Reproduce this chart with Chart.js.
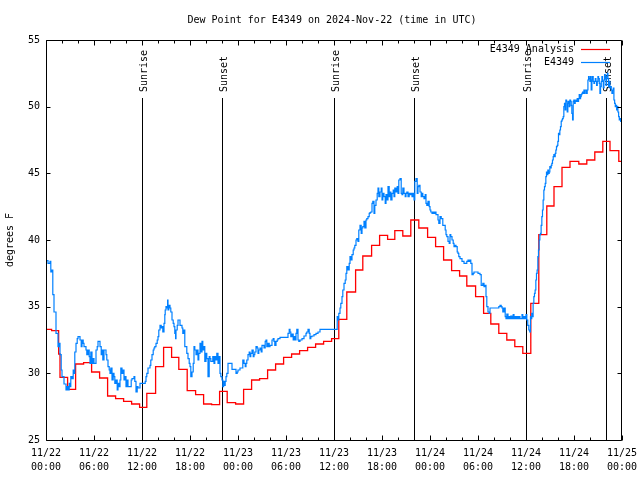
<!DOCTYPE html>
<html><head><meta charset="utf-8">
<script src="https://cdn.jsdelivr.net/npm/chart.js@4"></script>
<style>html,body{margin:0;padding:0;background:#fff}#wrap{width:640px;height:480px}</style>
</head><body><div id="wrap"><canvas id="c" width="640" height="480"></canvas></div>
<script>
const chartTitle = 'Dew Point for E4349 on 2024-Nov-22 (time in UTC)';
const yAxisLabel = 'degrees F';
const seriesNames = ['E4349 Analysis', 'E4349'];
const dateLabels = ['11/22','11/22','11/22','11/22','11/23','11/23','11/23','11/23','11/24','11/24','11/24','11/24','11/25'];
const timeLabels = ['00:00','06:00','12:00','18:00','00:00','06:00','12:00','18:00','00:00','06:00','12:00','18:00','00:00'];
const sunEventNames = ['Sunrise','Sunset','Sunrise','Sunset','Sunrise','Sunset'];
const sunEventHours = [11.97, 21.98, 36.0, 46.02, 60.05, 69.95];

// hours since 2024-11-22 00:00 UTC
const analysisHours = [0,0.7,1.58,1.75,2.7,
  3.7,4.7,5.7,6.7,7.7,8.7,9.7,10.7,11.7,12.6,13.7,14.7,15.7,16.6,17.65,18.7,19.7,20.7,21.7,22.65,23.7,
  24.7,25.7,26.7,27.7,28.7,29.7,30.7,31.7,32.7,33.7,34.7,35.7,
  36.6,37.6,38.7,39.6,40.7,41.7,42.7,43.6,44.6,45.6,46.6,47.7,48.7,49.7,50.7,51.7,52.6,53.7,54.7,55.6,56.6,57.6,58.6,59.6,
  60.6,61.6,62.6,63.5,64.5,65.5,66.6,67.6,68.6,69.6,70.5,71.6,72];
const analysisValues = [33.3,33.2,31.45,29.7,28.8,
  30.7,30.8,30.1,29.65,28.3,28.1,27.9,27.7,27.45,28.5,30.5,31.95,31.2,30.3,28.7,28.4,27.7,27.65,28.65,27.8,27.7,
  28.8,29.5,29.6,30.25,30.7,31.2,31.45,31.7,31.95,32.2,32.4,32.6,
  34.05,36.1,37.75,38.8,39.6,40.35,40.05,40.7,40.3,41.5,40.9,40.2,39.5,38.5,37.7,37.3,36.55,35.75,34.5,33.7,33.0,32.5,32.0,31.5,
  35.25,40.4,42.55,44.0,45.45,45.9,45.7,46.0,46.6,47.4,46.7,45.9,45.9];

const stationHours = [
  0,0.25,0.5,0.6,0.75,0.85,1.0,1.25,1.5,1.6,
  1.75,1.9,2.0,2.25,2.5,2.65,2.75,2.9,3.0,3.1,
  3.25,3.4,3.5,3.6,3.75,3.9,4.0,4.25,4.4,4.5,
  4.65,4.75,5.0,5.1,5.25,5.4,5.5,5.6,5.75,5.9,
  6.0,6.25,6.4,6.5,6.75,6.9,7.0,7.1,7.25,7.4,
  7.5,7.6,7.75,7.9,8.0,8.1,8.25,8.4,8.5,8.6,
  8.75,8.9,9.0,9.1,9.25,9.35,9.5,9.6,9.75,9.9,
  10.0,10.1,10.25,10.5,10.65,10.75,11.0,11.1,11.25,11.4,
  11.5,11.75,12.0,12.25,12.4,12.5,12.6,12.75,12.9,13.0,
  13.1,13.25,13.4,13.5,13.6,13.75,13.9,14.0,14.1,14.25,
  14.4,14.5,14.6,14.75,14.85,14.9,15.0,15.1,15.2,15.25,
  15.35,15.5,15.6,15.75,15.9,16.0,16.1,16.2,16.25,16.4,
  16.5,16.75,17.0,17.1,17.25,17.35,17.5,17.6,17.75,17.9,
  18.0,18.1,18.25,18.4,18.5,18.6,18.75,18.9,19.0,19.1,
  19.25,19.4,19.5,19.6,19.75,19.85,20.0,20.1,20.25,20.4,
  20.5,20.6,20.75,20.85,21.0,21.1,21.25,21.35,21.5,21.6,
  21.75,21.85,22.0,22.1,22.2,22.3,22.4,22.5,22.6,22.75,
  23.0,23.25,23.5,23.75,23.9,24.0,24.25,24.5,24.6,24.75,
  24.9,25.0,25.1,25.25,25.4,25.5,25.6,25.75,25.9,26.0,
  26.1,26.25,26.4,26.5,26.6,26.75,26.9,27.0,27.25,27.4,
  27.5,27.6,27.75,27.9,28.0,28.25,28.4,28.5,28.6,28.75,
  28.9,29.0,29.25,29.5,29.75,30.0,30.1,30.25,30.4,30.5,
  30.6,30.75,30.9,31.0,31.1,31.25,31.35,31.5,31.6,31.75,
  32.0,32.25,32.5,32.6,32.75,32.9,33.0,33.1,33.25,33.5,
  33.75,34.0,34.25,34.5,35.0,35.5,36.0,36.3,36.4,36.5,
  36.6,36.75,36.85,37.0,37.1,37.25,37.4,37.5,37.6,37.75,
  37.9,38.0,38.1,38.25,38.4,38.5,38.6,38.75,38.85,39.0,
  39.1,39.25,39.4,39.5,39.6,39.75,39.85,40.0,40.1,40.25,
  40.4,40.5,40.6,40.75,40.85,41.0,41.1,41.25,41.4,41.5,
  41.6,41.75,41.9,42.0,42.1,42.25,42.4,42.5,42.6,42.75,
  42.9,43.0,43.1,43.25,43.4,43.5,43.6,43.75,43.9,44.0,
  44.1,44.25,44.4,44.5,44.6,44.75,44.9,45.0,45.1,45.25,
  45.4,45.5,45.6,45.75,45.9,46.0,46.1,46.25,46.4,46.5,
  46.6,46.75,46.9,47.0,47.1,47.25,47.4,47.5,47.6,47.75,
  47.9,48.0,48.1,48.25,48.4,48.5,48.6,48.75,48.9,49.0,
  49.1,49.25,49.4,49.5,49.6,49.75,49.9,50.0,50.1,50.25,
  50.4,50.5,50.6,50.75,50.9,51.0,51.1,51.25,51.4,51.5,
  51.6,51.75,52.0,52.25,52.5,52.6,52.75,52.9,53.0,53.1,
  53.25,53.4,53.5,53.75,54.0,54.1,54.25,54.4,54.5,54.6,
  54.75,54.9,55.0,55.1,55.25,55.4,55.5,55.75,56.0,56.25,
  56.5,56.6,56.75,56.9,57.0,57.1,57.25,57.4,57.5,57.6,
  57.75,57.9,58.0,58.1,58.25,58.4,58.5,58.6,58.75,58.9,
  59.0,59.1,59.25,59.4,59.5,59.6,59.75,59.9,60.0,60.1,
  60.22,60.35,60.47,60.56,60.64,60.72,60.81,60.89,60.98,61.06,
  61.14,61.23,61.31,61.39,61.48,61.56,61.64,61.73,61.81,61.89,
  61.98,62.06,62.14,62.23,62.31,62.4,62.48,62.56,62.64,62.73,
  62.81,62.9,62.98,63.06,63.15,63.23,63.31,63.4,63.48,63.56,
  63.65,63.73,63.81,63.9,63.98,64.06,64.15,64.23,64.31,64.4,
  64.48,64.56,64.65,64.73,64.81,64.9,64.98,65.07,65.15,65.23,
  65.32,65.4,65.48,65.57,65.65,65.73,65.82,65.9,65.98,66.07,
  66.15,66.23,66.32,66.4,66.48,66.57,66.65,66.74,66.82,66.9,
  66.99,67.07,67.15,67.24,67.32,67.4,67.49,67.57,67.65,67.74,
  67.82,67.9,67.99,68.07,68.15,68.24,68.32,68.4,68.49,68.57,
  68.66,68.74,68.82,68.91,68.99,69.07,69.16,69.24,69.32,69.41,
  69.49,69.57,69.66,69.74,69.82,69.91,70.0,70.07,70.16,70.24,
  70.32,70.41,70.49,70.57,70.66,70.74,70.83,70.91,70.99,71.08,
  71.16,71.24,71.33,71.41,71.49,71.58,71.66,71.74,71.83,72.0];
const stationValues = [
  38.45,38.25,38.4,37.6,37.75,35.9,34.6,33.0,32.0,32.25,
  31.4,30.25,29.75,29.2,28.75,29.0,28.75,29.25,29.0,29.75,
  29.6,30.25,30.0,31.6,32.25,32.6,32.75,32.5,32.0,32.5,
  32.25,32.0,31.75,31.4,31.75,31.25,30.75,31.6,30.75,31.1,
  30.75,31.75,32.0,32.4,32.0,31.4,31.75,31.0,31.75,31.75,
  31.4,31.0,30.5,30.25,30.0,30.4,29.5,30.0,29.75,29.25,
  29.5,28.75,29.25,29.0,29.5,30.4,30.0,30.25,29.5,29.75,
  29.0,29.5,29.0,29.0,29.5,29.6,29.75,29.4,28.6,29.0,
  28.9,29.25,29.25,29.25,29.4,29.75,30.0,30.4,30.4,30.6,
  31.0,31.4,31.75,31.9,32.0,32.25,32.5,32.75,33.25,33.6,
  33.4,33.5,33.1,33.75,34.4,34.75,35.0,34.9,35.5,34.75,
  35.1,34.9,34.6,34.0,33.75,33.5,33.0,32.6,33.25,33.6,
  34.0,33.6,33.4,33.0,33.25,32.0,32.0,31.5,31.1,30.75,
  30.5,29.75,30.1,30.75,32.0,31.75,31.4,31.75,31.0,31.5,
  32.25,31.6,32.4,31.75,32.0,30.9,31.5,31.1,29.75,31.25,
  31.1,30.9,30.9,31.25,30.75,31.25,31.0,31.5,30.75,31.25,
  30.0,29.75,29.5,29.0,29.4,29.1,29.4,29.75,30.0,30.75,
  30.75,30.3,30.3,30.0,30.1,30.25,30.4,30.4,31.0,30.75,
  30.5,30.75,31.0,31.4,31.6,31.25,31.5,31.75,31.25,31.4,
  31.6,32.0,31.9,31.5,31.75,31.9,31.6,32.1,31.9,32.4,
  32.5,32.0,32.25,32.0,32.1,32.5,32.6,32.4,32.1,32.4,
  32.5,32.6,32.7,32.7,32.7,32.7,32.7,33.0,33.3,33.1,
  32.75,32.95,32.5,32.75,32.5,33.0,33.3,32.5,32.4,32.5,
  32.6,32.8,33.0,33.1,33.3,33.0,32.6,32.75,32.8,32.9,
  33.0,33.1,33.3,33.3,33.3,33.3,33.3,33.3,34.25,34.0,
  34.5,34.9,35.25,35.75,36.25,36.75,37.0,37.5,38.0,37.75,
  38.25,38.75,38.5,38.9,39.25,39.4,39.6,40.0,40.1,39.9,
  40.75,41.1,40.5,40.9,41.0,41.4,40.9,41.5,41.6,41.75,
  42.0,42.05,42.1,42.75,42.9,42.0,42.6,43.0,43.5,43.9,
  43.25,43.6,43.9,43.0,43.5,43.25,42.75,43.4,43.0,44.0,
  43.25,43.6,43.0,43.5,43.75,43.25,43.9,43.6,44.0,43.5,
  44.5,44.6,43.5,43.4,43.9,43.5,43.25,43.5,43.6,43.25,
  43.5,43.4,43.5,43.25,43.5,43.0,44.4,44.6,43.5,44.0,
  44.1,43.6,43.25,43.5,43.25,43.1,43.4,42.75,42.6,42.9,
  42.5,42.25,42.1,42.0,42.1,42.0,42.1,41.9,41.9,41.5,
  41.25,41.75,41.6,41.6,41.1,41.1,40.75,40.4,40.25,39.9,
  39.75,40.4,40.25,40.0,39.75,39.5,39.6,39.5,39.1,39.0,
  38.75,38.6,38.4,38.25,38.25,38.4,38.5,38.4,38.5,38.25,
  37.4,37.5,37.6,37.6,37.5,37.5,37.4,36.6,36.6,36.75,
  36.5,36.6,35.75,35.0,34.6,34.5,34.9,34.9,34.9,34.9,
  34.9,35.0,35.1,35.0,34.9,34.6,34.9,34.25,34.1,34.45,
  34.1,34.25,34.1,34.3,34.1,34.4,34.1,34.25,34.1,34.25,
  34.1,34.25,34.1,34.1,34.4,34.1,34.25,34.1,34.4,34.0,
  33.6,33.25,33.1,34.25,34.1,34.5,34.25,35.25,35.75,36.0,
  36.25,37.0,37.5,37.75,38.75,39.25,40.0,40.4,40.5,41.1,
  41.75,42.25,43.0,43.75,44.0,44.25,44.75,45.1,44.9,45.25,
  45.0,45.1,45.5,45.4,45.6,45.75,46.0,46.25,46.4,46.25,
  46.5,46.75,47.0,47.1,47.4,48.0,47.9,48.25,48.5,48.9,
  49.0,49.1,49.25,50.0,50.25,49.75,50.5,50.4,49.6,50.25,
  50.4,50.0,50.5,50.4,50.1,49.5,49.0,50.4,50.5,50.25,
  50.4,50.5,50.4,50.6,50.4,50.6,50.9,50.6,50.75,50.9,
  51.0,51.1,51.0,51.25,51.0,51.25,51.25,51.0,51.25,52.0,
  52.25,52.1,51.9,52.25,51.25,52.0,52.25,51.9,51.75,51.9,
  52.1,51.9,51.6,51.9,52.25,52.1,51.75,51.0,51.5,51.9,
  52.25,51.9,51.4,52.0,52.4,52.1,51.6,52.25,52.5,52.1,
  51.5,51.9,51.4,51.5,51.25,51.0,51.25,51.4,50.5,50.25,
  50.0,50.1,49.75,50.0,49.6,49.25,49.0,49.1,48.9,48.8];

const FONT = 'DejaVu Sans Mono';
const seriesColors = ['#ff0000', '#0080ff'];

const decor = {
  id: 'decor',
  beforeDatasetsDraw(chart) {
    const {ctx, chartArea: a, scales: {x}} = chart;
    ctx.save();
    ctx.strokeStyle = '#000';
    ctx.lineWidth = 1;
    ctx.fillStyle = '#000';
    ctx.font = '10px "' + FONT + '"';
    sunEventHours.forEach((h, i) => {
      const px = Math.round(x.getPixelForValue(h)) + 0.5;
      ctx.beginPath();
      ctx.moveTo(px, a.top + 58);
      ctx.lineTo(px, a.bottom);
      ctx.stroke();
      ctx.save();
      ctx.translate(px + 2, a.top + 52);
      ctx.rotate(-Math.PI / 2);
      ctx.textAlign = 'left';
      ctx.textBaseline = 'middle';
      ctx.fillText(sunEventNames[i], 0, 0);
      ctx.restore();
    });
    ctx.restore();
  },
  afterDatasetsDraw(chart) {
    const {ctx, chartArea: a, scales: {x, y}} = chart;
    ctx.save();
    ctx.strokeStyle = '#000';
    ctx.fillStyle = '#000';
    ctx.lineWidth = 1;
    const L = Math.round(a.left) + 0.5, R = Math.round(a.right) - 0.5;
    const T = Math.round(a.top) + 0.5, B = Math.round(a.bottom) + 0.5;
    ctx.beginPath();
    ctx.rect(L, T, R - L, B - T);
    // x ticks (major every 6 h, minor every 2 h), mirrored top
    for (let h = 0; h <= 72; h += 2) {
      const px = Math.round(x.getPixelForValue(h)) + 0.5;
      const len = (h % 6 === 0) ? 5 : 3;
      ctx.moveTo(px, B); ctx.lineTo(px, B - len);
      ctx.moveTo(px, T); ctx.lineTo(px, T + len);
    }
    for (let v = 25; v <= 55; v += 5) {
      const py = Math.round(y.getPixelForValue(v)) + 0.5;
      ctx.moveTo(L, py); ctx.lineTo(L + 4, py);
      ctx.moveTo(R, py); ctx.lineTo(R - 4, py);
    }
    ctx.stroke();

    ctx.font = '10px "' + FONT + '"';
    // title
    ctx.textAlign = 'center';
    ctx.textBaseline = 'middle';
    ctx.fillText(chartTitle, chart.width / 2 + 12, 20);
    // y label
    ctx.save();
    ctx.translate(10, (a.top + a.bottom) / 2);
    ctx.rotate(-Math.PI / 2);
    ctx.fillText(yAxisLabel, 0, 0);
    ctx.restore();
    // legend
    ctx.textAlign = 'right';
    seriesNames.forEach((name, i) => {
      const ly = Math.round(a.top + 9 + i * 13) + 0.5;
      ctx.fillStyle = '#000';
      ctx.fillText(name, a.right - 48, ly);
      ctx.strokeStyle = seriesColors[i];
      ctx.lineWidth = 1.2;
      ctx.beginPath();
      ctx.moveTo(a.right - 41, ly);
      ctx.lineTo(a.right - 12, ly);
      ctx.stroke();
    });
    ctx.restore();
  }
};

new Chart(document.getElementById('c'), {
  type: 'line',
  data: {
    datasets: [
      {
        label: seriesNames[0],
        data: analysisHours.map((h, i) => ({x: h, y: analysisValues[i]})),
        borderColor: seriesColors[0], borderWidth: 1.3, stepped: true,
        pointRadius: 0, fill: false, order: 1
      },
      {
        label: seriesNames[1],
        data: stationHours.map((h, i) => ({x: h, y: stationValues[i]})),
        borderColor: seriesColors[1], borderWidth: 1.2, stepped: true,
        pointRadius: 0, fill: false, order: 0
      }
    ]
  },
  options: {
    responsive: false,
    animation: false,
    devicePixelRatio: 1,
    layout: {padding: {top: 40, right: 18, left: 0, bottom: 0}},
    plugins: {legend: {display: false}, title: {display: false}, tooltip: {enabled: false}},
    scales: {
      x: {
        type: 'linear', min: 0, max: 72,
        grid: {display: false, drawTicks: false}, border: {display: false},
        afterFit: s => { s.height = 40; s.paddingLeft = 0; s.paddingRight = 0; },
        ticks: {
          stepSize: 6, autoSkip: false, maxRotation: 0, padding: 6, color: '#000',
          font: {family: FONT, size: 10, lineHeight: 1.45},
          callback: v => { const i = Math.round(v / 6); return [dateLabels[i], timeLabels[i]]; }
        }
      },
      y: {
        min: 25, max: 55,
        grid: {display: false, drawTicks: false}, border: {display: false},
        afterFit: s => { s.width = 46; s.paddingTop = 0; s.paddingBottom = 0; },
        ticks: {stepSize: 5, padding: 6, color: '#000', font: {family: FONT, size: 10}}
      }
    }
  },
  plugins: [decor]
});
</script>
</body></html>
